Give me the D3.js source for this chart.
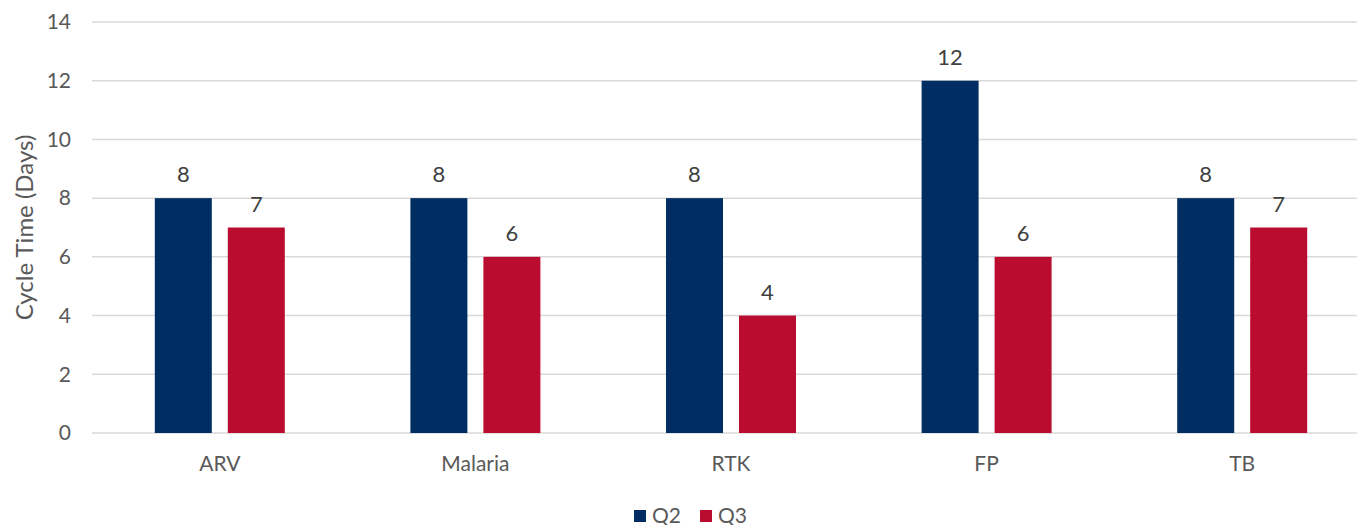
<!DOCTYPE html>
<html>
<head>
<meta charset="utf-8">
<script src="https://cdn.jsdelivr.net/npm/d3@7"></script>
<style>
  html, body { margin: 0; padding: 0; background: #fff; }
  svg { display: block; font-family: "Lato", "Open Sans", sans-serif; }
</style>
</head>
<body>
<svg id="chart" width="1357" height="525"></svg>
<script>
// Cycle time per commodity group, two quarters
const categories = ["ARV", "Malaria", "RTK", "FP", "TB"];
const seriesNames = ["Q2", "Q3"];
const q2Values = [8, 8, 8, 12, 8];
const q3Values = [7, 6, 4, 6, 7];
const yTicks = [0, 2, 4, 6, 8, 10, 12, 14];
const colors = ["#002D62", "#BA0C2F"];

const svg = d3.select("#chart");
const plotLeft = 92, plotRight = 1370, plotTop = 22, plotBottom = 433;
const fontStack = "Lato, 'Open Sans', sans-serif";

const x = d3.scaleBand().domain(categories).range([plotLeft, plotRight]);
const y = d3.scaleLinear().domain([0, 14]).range([plotBottom, plotTop]);
const barW = 57, gap = 16;
const sub = d3.scaleOrdinal().domain(seriesNames)
  .range([-(barW + gap / 2), gap / 2]);

// gridlines
svg.append("g").selectAll("line").data(yTicks).join("line")
  .attr("x1", plotLeft).attr("x2", 1357)
  .attr("y1", d => y(d)).attr("y2", d => y(d))
  .attr("stroke", "#d9d9d9").attr("stroke-width", 1.5);

// y axis tick labels
const yAxis = d3.axisLeft(y).tickValues(yTicks).tickSize(0).tickPadding(0);
const gy = svg.append("g").attr("transform", "translate(71,0)").call(yAxis);
gy.select(".domain").remove();
gy.selectAll("text").attr("fill", "#595959").style("font-size", "21px")
  .style("font-family", fontStack);

// y axis title
svg.append("text")
  .attr("transform", `translate(33,${(plotTop + plotBottom) / 2}) rotate(-90)`)
  .attr("text-anchor", "middle")
  .attr("fill", "#595959").style("font-size", "24px")
  .text("Cycle Time (Days)");

// x axis labels
const xAxis = d3.axisBottom(x).tickSize(0).tickPadding(0);
const gx = svg.append("g").attr("transform", "translate(0,0)").call(xAxis);
gx.select(".domain").remove();
gx.selectAll("text").attr("fill", "#595959").style("font-size", "21px")
  .attr("y", 471).attr("dy", 0)
  .style("font-family", fontStack);

const rows = categories.map((c, i) => ({ cat: c, values: [q2Values[i], q3Values[i]] }));
const bars = rows.flatMap(r => r.values.map((v, k) => ({ cat: r.cat, s: seriesNames[k], v, k })));

svg.append("g").selectAll("rect").data(bars).join("rect")
  .attr("x", d => x(d.cat) + x.bandwidth() / 2 + sub(d.s))
  .attr("y", d => y(d.v))
  .attr("width", barW)
  .attr("height", d => y(0) - y(d.v))
  .attr("fill", d => colors[d.k]);

// value labels
svg.append("g").selectAll("text").data(bars).join("text")
  .attr("x", d => x(d.cat) + x.bandwidth() / 2 + sub(d.s) + barW / 2)
  .attr("y", d => y(d.v) - 16)
  .attr("text-anchor", "middle")
  .attr("fill", "#404040").style("font-size", "22px")
  .text(d => d.v);

// legend
const legend = svg.append("g").attr("transform", "translate(634,510)");
const items = legend.selectAll("g").data(seriesNames).join("g")
  .attr("transform", (d, i) => `translate(${i * 66},0)`);
items.append("rect").attr("width", 12).attr("height", 12)
  .attr("fill", (d, i) => colors[i]);
items.append("text").attr("x", 18).attr("y", 12.5)
  .attr("fill", "#595959").style("font-size", "21px").text(d => d);
</script>
</body>
</html>
